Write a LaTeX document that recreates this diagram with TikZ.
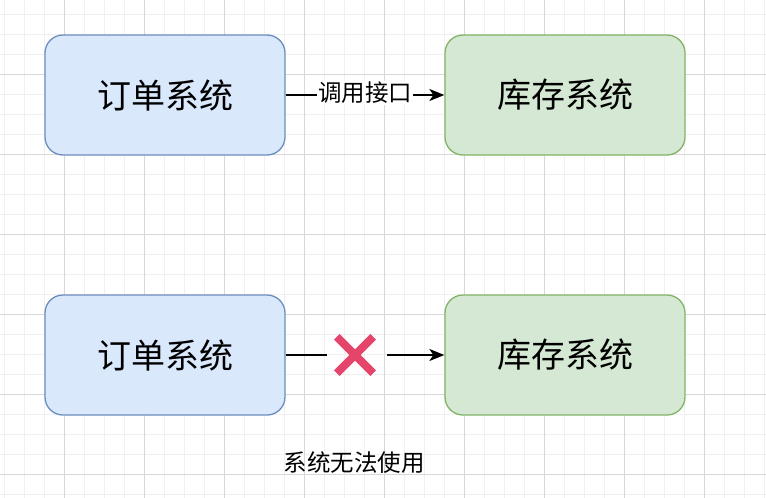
\documentclass[tikz,border=0pt]{standalone}
\usepackage{fontspec}
\setmainfont{Noto Sans CJK SC}
\usetikzlibrary{arrows.meta}
\definecolor{bluefill}{HTML}{DAE8FC}
\definecolor{bluedraw}{HTML}{6C8EBF}
\definecolor{greenfill}{HTML}{D5E8D4}
\definecolor{greendraw}{HTML}{82B366}
\definecolor{minorgrid}{HTML}{F0F0F0}
\definecolor{majorgrid}{HTML}{D8D8D8}
\definecolor{crossred}{HTML}{E5456B}
\tikzset{
  sysbox/.style={rounded corners=18pt, minimum width=240pt, minimum height=120pt, line width=1.3pt, font=\fontsize{34}{38}\selectfont, inner sep=0pt},
  bluebox/.style={sysbox, fill=bluefill, draw=bluedraw},
  greenbox/.style={sysbox, fill=greenfill, draw=greendraw},
  conn/.style={line width=1.2pt, -{Stealth[length=15pt,width=12pt,inset=4pt]}},
  plainline/.style={line width=1.2pt},
  lbl/.style={font=\fontsize{23.5}{27}\selectfont, inner sep=1pt},
}
\begin{document}
\begin{tikzpicture}[x=1pt,y=-1pt]
\useasboundingbox (0,0) rectangle (766,498);
\fill[white] (0,0) rectangle (766,498);
% grid
\foreach \x in {4,24,...,764} \draw[minorgrid, line width=0.8pt] (\x,0) -- (\x,498);
\foreach \y in {14,34,...,494} \draw[minorgrid, line width=0.8pt] (0,\y) -- (766,\y);
\foreach \x in {64,144,...,704} \draw[majorgrid, line width=0.8pt] (\x,0) -- (\x,498);
\foreach \y in {74,154,...,474} \draw[majorgrid, line width=0.8pt] (0,\y) -- (766,\y);
% top row
\node[bluebox] (order1) at (165,95) {订单系统};
\node[greenbox] (stock1) at (565,95) {库存系统};
\draw[conn] (order1.east) -- node[lbl, fill=white, yshift=2pt] (call) {调用接口} (stock1.west);
% bottom row
\node[bluebox] (order2) at (165,355) {订单系统};
\node[greenbox] (stock2) at (565,355) {库存系统};
\coordinate (cutA) at (327,355);
\coordinate (cutB) at (387,355);
\node[minimum size=36pt, inner sep=0pt] (cross) at (355,355) {};
\draw[crossred, line width=8pt] (cross.north west) -- (cross.south east);
\draw[crossred, line width=8pt] (cross.north east) -- (cross.south west);
\draw[plainline] (order2.east) -- (cutA);
\draw[conn] (cutB) -- (stock2.west);
\node[lbl] (fail) at (354,463) {系统无法使用};
\end{tikzpicture}
\end{document}
